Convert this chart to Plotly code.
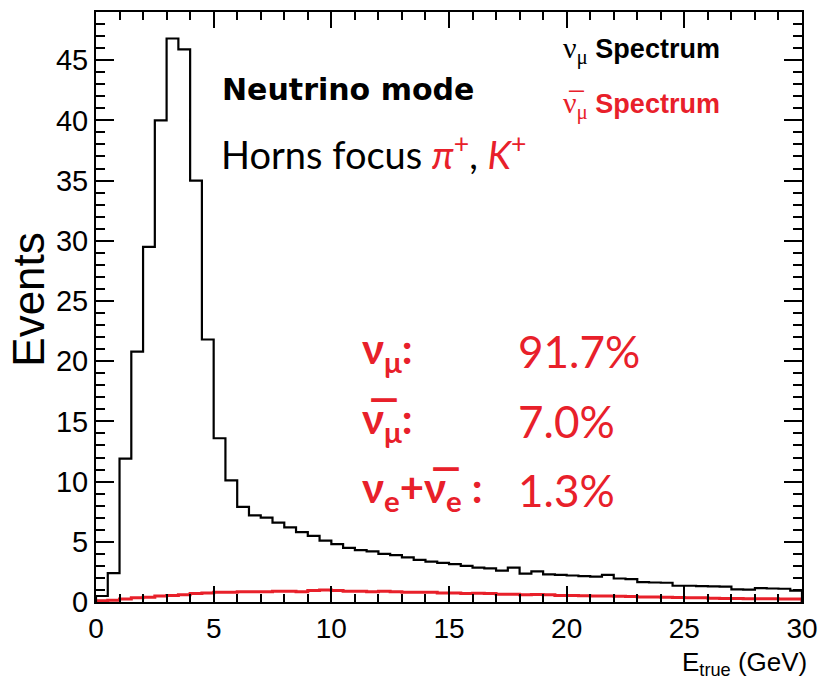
import numpy as np
import plotly.graph_objects as go

# Histogram binning: 60 bins of 0.5 GeV from 0 to 30
x_min, x_max, n_bins = 0.0, 30.0, 60
edges = np.linspace(x_min, x_max, n_bins + 1)

# nu_mu spectrum (black), events per bin
numu_events = [
    0.5, 2.4, 11.9, 20.8, 29.5, 40.0, 46.8, 45.9, 35.0, 21.8,
    13.6, 10.1, 7.9, 7.2, 7.0, 6.6, 6.2, 5.8, 5.5, 5.1,
    4.8, 4.5, 4.3, 4.2, 4.0, 3.9, 3.7, 3.5, 3.35, 3.25,
    3.15, 3.0, 2.85, 2.8, 2.6, 2.85, 2.35, 2.55, 2.3, 2.25,
    2.2, 2.15, 2.1, 2.25, 1.95, 1.9, 1.65, 1.62, 1.6, 1.35,
    1.35, 1.32, 1.3, 1.28, 1.05, 1.02, 1.15, 1.12, 1.1, 0.95,
]
# anti-nu_mu spectrum (red), events per bin
numubar_events = [
    0.1, 0.15, 0.25, 0.35, 0.4, 0.5, 0.55, 0.6, 0.7, 0.75,
    0.8, 0.8, 0.85, 0.85, 0.85, 0.9, 0.9, 0.85, 0.95, 1.0,
    0.95, 0.9, 0.9, 0.85, 0.9, 0.85, 0.8, 0.8, 0.8, 0.75,
    0.75, 0.7, 0.72, 0.7, 0.65, 0.65, 0.6, 0.62, 0.6, 0.55,
    0.55, 0.52, 0.5, 0.5, 0.48, 0.45, 0.42, 0.42, 0.4, 0.38,
    0.35, 0.35, 0.32, 0.3, 0.3, 0.28, 0.28, 0.26, 0.25, 0.25,
]

x_ticks = [0, 5, 10, 15, 20, 25, 30]
y_ticks = [0, 5, 10, 15, 20, 25, 30, 35, 40, 45]
y_max = 49.0

flux_labels = ["<b>ν<sub>μ</sub>:</b>", "<b>ν̅<sub>μ</sub>:</b>", "<b>ν<sub>e</sub>+ν̅<sub>e</sub> :</b>"]
flux_values = ["91.7%", "7.0%", "1.3%"]


def step_xy(vals):
    xs = [edges[0]] + list(edges[:-1]) + [edges[-1], edges[-1]]
    ys = [0.0] + list(vals) + [vals[-1], 0.0]
    return xs, ys


fig = go.Figure()
xr, yr = step_xy(numubar_events)
fig.add_trace(go.Scatter(x=xr, y=yr, mode="lines", line=dict(shape="hv", color="#e8202a", width=3),
                         hoverinfo="skip", showlegend=False))
xb, yb = step_xy(numu_events)
fig.add_trace(go.Scatter(x=xb, y=yb, mode="lines", line=dict(shape="hv", color="black", width=2.2),
                         hoverinfo="skip", showlegend=False))

L, R, T, B = 96, 19, 10, 79
W, H = 828, 681
pw, ph = W - L - R, H - T - B


def px(x):
    return (x - L) / pw


def py(y):
    return (H - B - y) / ph


RED = "#e8202a"
GOTH = "Lato, 'Noto Sans', sans-serif"
ann = []
ann.append(dict(x=px(221), y=py(88), text="<b>Neutrino mode</b>", xanchor="left", yanchor="middle",
                font=dict(family="DejaVu Sans", size=30, color="black")))
ann.append(dict(x=px(220), y=py(150), xanchor="left", yanchor="middle",
                text="Horns focus <span style='color:%s'><i>π</i><sup>+</sup></span>, "
                     "<span style='color:%s'><i>K</i><sup>+</sup></span>" % (RED, RED),
                font=dict(family=GOTH, size=38, color="black")))
ann.append(dict(x=px(566), y=py(48), xanchor="left", yanchor="middle",
                text="<span style=\"font-family:'Liberation Serif';font-size:30px\">ν<sub>μ</sub></span> <b>Spectrum</b>",
                font=dict(family="Liberation Sans", size=27, color="black")))
ann.append(dict(x=px(566), y=py(103), xanchor="left", yanchor="middle",
                text="<span style=\"font-family:'Liberation Serif';font-size:30px\">ν̅<sub>μ</sub></span> <b>Spectrum</b>",
                font=dict(family="Liberation Sans", size=27, color=RED)))
rows_y = [350, 420, 490]
for lab, val, yy in zip(flux_labels, flux_values, rows_y):
    ann.append(dict(x=px(363), y=py(yy), xanchor="left", yanchor="middle", text=lab,
                    font=dict(family=GOTH, size=42, color=RED)))
    ann.append(dict(x=px(520), y=py(yy), xanchor="left", yanchor="middle", text=val,
                    font=dict(family=GOTH, size=44, color=RED)))
ann.append(dict(x=px(27), y=py(298), text="Events", textangle=-90, xanchor="center", yanchor="middle",
                font=dict(family="Liberation Sans", size=44, color="black")))
ann.append(dict(x=px(816), y=py(664), text="E<sub>true</sub> (GeV)", xanchor="right", yanchor="middle",
                font=dict(family="Liberation Sans", size=26, color="black")))
for a in ann:
    a.update(xref="paper", yref="paper", showarrow=False)

fig.update_layout(
    width=W, height=H, margin=dict(l=L, r=R, t=T, b=B),
    paper_bgcolor="white", plot_bgcolor="white",
    annotations=ann,
    xaxis=dict(range=[x_min, x_max], tickvals=x_ticks, ticktext=[str(v) for v in x_ticks],
               ticks="inside", ticklen=16, tickwidth=2, tickcolor="black",
               minor=dict(dtick=1, ticks="inside", ticklen=8, tickwidth=2, tickcolor="black"),
               showline=True, linewidth=2, linecolor="black", mirror="allticks",
               showgrid=False, zeroline=False,
               tickfont=dict(family="Liberation Sans", size=28, color="black")),
    yaxis=dict(range=[0, y_max], tickvals=y_ticks, ticktext=[str(v) for v in y_ticks],
               ticks="inside", ticklen=18, tickwidth=2, tickcolor="black",
               minor=dict(dtick=1, ticks="inside", ticklen=9, tickwidth=2, tickcolor="black"),
               showline=True, linewidth=2, linecolor="black", mirror="allticks",
               showgrid=False, zeroline=False,
               tickfont=dict(family="Liberation Sans", size=29, color="black")),
)

fig.write_html("out.html")
